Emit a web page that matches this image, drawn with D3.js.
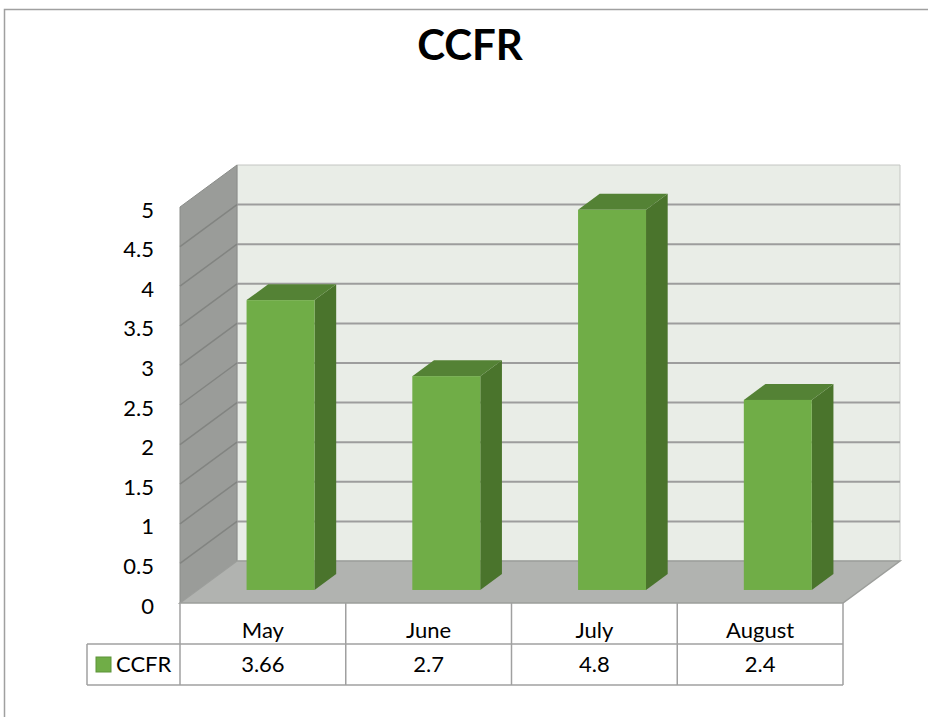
<!DOCTYPE html>
<html>
<head>
<meta charset="utf-8">
<script src="https://cdn.jsdelivr.net/npm/d3@7"></script>
<style>
  body { margin: 0; background: #fff; }
  svg { display: block; font-family: Lato, "Open Sans", sans-serif; }
</style>
</head>
<body>
<svg id="chart" width="928" height="717"></svg>
<script>
// chart data
const seriesName = 'CCFR';
const months = ['May', 'June', 'July', 'August'];
const values = [3.66, 2.7, 4.8, 2.4];
const yTicks = [0, 0.5, 1, 1.5, 2, 2.5, 3, 3.5, 4, 4.5, 5];

const svg = d3.select('#chart');

// oblique depth offset of the 3d box
const DX = 57, DY = -42;
const depthFront = 0.31, depthBack = 0.69;

const x = d3.scaleBand().domain(months).range([180, 843]);
const y = d3.scaleLinear().domain([0, 5]).range([603, 207]);
const barW = x.bandwidth() * 0.41;

const pts = p => p.map(d => d.join(',')).join(' ');

// outer frame
svg.append('path')
  .attr('d', 'M4.5,717 L4.5,9.5 L928,9.5')
  .attr('fill', 'none').attr('stroke', '#a0a0a0').attr('stroke-width', 1.5);

// title
svg.append('text')
  .attr('x', 470).attr('y', 60)
  .attr('text-anchor', 'middle')
  .attr('font-size', 42).attr('font-weight', 'bold')
  .text(seriesName);

const x0 = x.range()[0], x1 = x.range()[1];
const y0 = y(0), yTop = y(5);

// back wall
svg.append('polygon')
  .attr('points', pts([[x0 + DX, y0 + DY], [x1 + DX, y0 + DY], [x1 + DX, yTop + DY], [x0 + DX, yTop + DY]]))
  .attr('fill', '#e9ede7').attr('stroke', '#c4c6c3').attr('stroke-width', 1);

// side wall
svg.append('polygon')
  .attr('points', pts([[x0, y0], [x0, yTop], [x0 + DX, yTop + DY], [x0 + DX, y0 + DY]]))
  .attr('fill', '#9a9c99').attr('stroke', '#8a8c89').attr('stroke-width', 1);

// floor
svg.append('polygon')
  .attr('points', pts([[x0, y0], [x1, y0], [x1 + DX, y0 + DY], [x0 + DX, y0 + DY]]))
  .attr('fill', '#b1b3b0').attr('stroke', '#9c9e9b').attr('stroke-width', 1.5);

// gridlines on back wall and side wall
const grid = yTicks.filter(v => v > 0 && v < 5);
svg.append('g').selectAll('line').data(grid).join('line')
  .attr('x1', x0 + DX).attr('x2', x1 + DX)
  .attr('y1', d => y(d) + DY).attr('y2', d => y(d) + DY)
  .attr('stroke', '#9d9d9d').attr('stroke-width', 2);
svg.append('g').selectAll('line').data(grid).join('line')
  .attr('x1', x0).attr('x2', x0 + DX)
  .attr('y1', d => y(d)).attr('y2', d => y(d) + DY)
  .attr('stroke', '#828481').attr('stroke-width', 1.5);

// bars
const bars = svg.append('g').selectAll('g').data(values).join('g');
bars.each(function(v, i) {
  const g = d3.select(this);
  const bx = x(months[i]) + (x.bandwidth() - barW) / 2 + DX * depthFront;
  const by = y(0) + DY * depthFront;
  const top = y(v) + DY * depthFront;
  const ddx = DX * (depthBack - depthFront), ddy = DY * (depthBack - depthFront);
  // side
  g.append('polygon')
    .attr('points', pts([[bx + barW, by], [bx + barW, top], [bx + barW + ddx, top + ddy], [bx + barW + ddx, by + ddy]]))
    .attr('fill', '#4a742c');
  // top
  g.append('polygon')
    .attr('points', pts([[bx, top], [bx + barW, top], [bx + barW + ddx, top + ddy], [bx + ddx, top + ddy]]))
    .attr('fill', '#548235');
  // front
  g.append('rect')
    .attr('x', bx).attr('y', top)
    .attr('width', barW).attr('height', by - top)
    .attr('fill', '#70ad47');
});

// y axis labels
const yAxis = d3.axisLeft(y).tickValues(yTicks).tickSize(0).tickPadding(0)
  .tickFormat(d => d);
const ya = svg.append('g').attr('transform', `translate(${x0 - 26},3)`).call(yAxis);
ya.select('.domain').remove();
ya.selectAll('text').attr('font-size', 22).attr('fill', '#000')
  .attr('font-family', 'Lato, "Open Sans", sans-serif');

// data table
const rowTop = 603, rowMid = 644, rowBot = 685, legendLeft = 87;
const tbl = svg.append('g').attr('stroke', '#a0a0a0').attr('stroke-width', 1.5).attr('fill', 'none');
tbl.append('line').attr('x1', legendLeft).attr('x2', x1).attr('y1', rowMid).attr('y2', rowMid);
tbl.append('line').attr('x1', legendLeft).attr('x2', x1).attr('y1', rowBot).attr('y2', rowBot);
tbl.append('line').attr('x1', legendLeft).attr('x2', legendLeft).attr('y1', rowMid).attr('y2', rowBot);
tbl.selectAll('.col').data(months.map(m => x(m)).concat([x1])).join('line')
  .attr('class', 'col')
  .attr('x1', d => d).attr('x2', d => d)
  .attr('y1', rowTop).attr('y2', rowBot);

svg.append('g').selectAll('text').data(months).join('text')
  .attr('x', d => x(d) + x.bandwidth() / 2).attr('y', 638)
  .attr('text-anchor', 'middle').attr('font-size', 22)
  .text(d => d);
svg.append('g').selectAll('text').data(values).join('text')
  .attr('x', (d, i) => x(months[i]) + x.bandwidth() / 2).attr('y', 672)
  .attr('text-anchor', 'middle').attr('font-size', 22)
  .text(d => d);

// legend key
svg.append('rect')
  .attr('x', 96).attr('y', 657).attr('width', 15).attr('height', 15)
  .attr('fill', '#70ad47').attr('stroke', '#5d9339').attr('stroke-width', 1);
svg.append('text')
  .attr('x', 116).attr('y', 672)
  .attr('font-size', 22)
  .text(seriesName);
</script>
</body>
</html>
